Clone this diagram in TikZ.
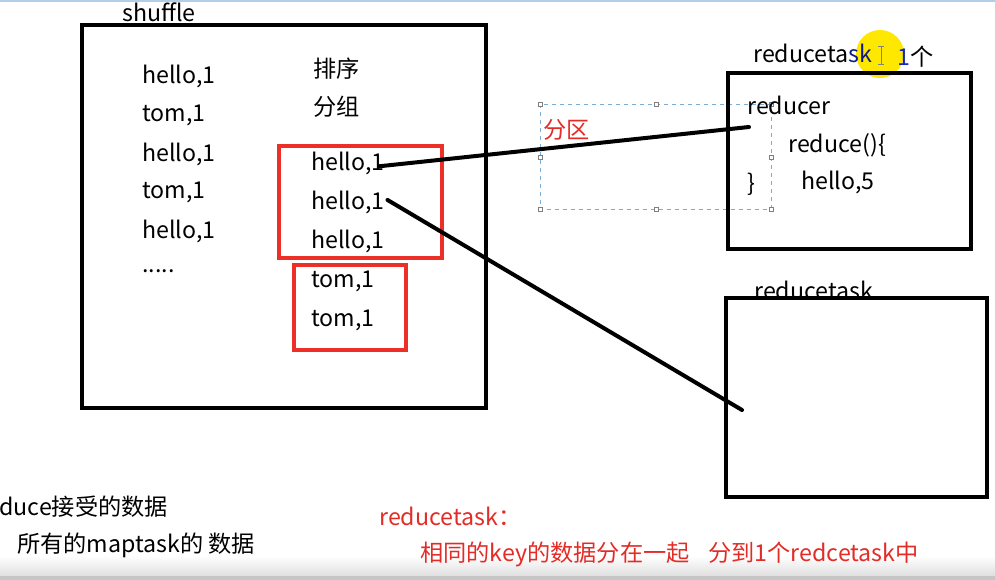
\documentclass[tikz,border=0pt]{standalone}
\usepackage{fontspec}
\setmainfont{Noto Sans CJK SC}
\definecolor{boxred}{RGB}{236,48,40}
\definecolor{txtred}{RGB}{228,44,38}
\definecolor{selblue}{RGB}{125,172,214}
\definecolor{curblue}{RGB}{20,40,190}
\definecolor{hiyellow}{RGB}{255,232,0}
\tikzset{
  txt/.style={anchor=west,inner sep=0pt,yshift=-1.2pt,font=\fontsize{17.4}{20}\selectfont},
  redtxt/.style={txt,text=txtred},
  frame/.style={draw=black,line width=3pt},
  redbox/.style={draw=boxred,line width=2.3pt},
  link/.style={line width=3pt,line cap=round},
  handle/.style={draw=gray,fill=white,line width=0.4pt,minimum size=3pt,inner sep=0pt}
}
\begin{document}
\begin{tikzpicture}[x=0.75pt,y=-0.75pt]
  \useasboundingbox (0,0) rectangle (995,580);
  % window edges
  \fill[white] (0,0) rectangle (995,580);
  \draw[selblue!60,line width=1.5pt] (0,1) -- (995,1);
  \shade[top color=white,bottom color=gray!25] (0,556) rectangle (995,576);
  \fill[gray!45] (0,576) rectangle (995,580);

  % shuffle box
  \draw[frame] (82,25) rectangle (486,408);
  \node[txt] (shuffle) at (122,11) {shuffle};
  \node[txt] (a1) at (142,75) {hello,1};
  \node[txt] (a2) at (142,114) {tom,1};
  \node[txt] (a3) at (142,153) {hello,1};
  \node[txt] (a4) at (142,191) {tom,1};
  \node[txt] (a5) at (142,230) {hello,1};
  \node[txt] (a6) at (142,270) {.....};
  \node[txt] (sort) at (313,67) {排序};
  \node[txt] (group) at (313,105) {分组};
  \node[txt] (h1) at (311,162) {hello,1};
  \node[txt] (h2) at (311,201) {hello,1};
  \node[txt] (h3) at (311,240) {hello,1};
  \node[txt] (t1) at (311,280) {tom,1};
  \node[txt] (t2) at (311,319) {tom,1};
  \draw[redbox] (279,146) rectangle (442,258);
  \draw[redbox] (294,265) rectangle (406,350);

  % partition selection
  \draw[selblue,dashed,line width=0.6pt] (540,104) rectangle (771,209);
  \foreach \p in {(540,104),(656,104),(771,104),(540,157),(771,157),(540,209),(656,209),(771,209)}
    \node[handle] at \p {};
  \node[redtxt] (part) at (543,128) {分区};

  % first reducetask
  \fill[hiyellow] (880,54) circle (24);
  \draw[curblue,line width=1.5pt] (864,72) -- (899,72);
  \draw[frame] (728,73) rectangle (971,249);
  \node[txt] (rt1) at (753,52) {reduceta\textcolor{curblue!70!black}{sk}};
  \draw[gray,line width=0.6pt] (881,46) -- (881,64) (878,46) -- (884,46) (878,64) -- (884,64);
  \node[txt] (one) at (897,55) {\textcolor{curblue}{1}个};
  \node[txt] (reducer) at (747,104) {reducer};
  \node[txt] (rfun) at (788,144) {reduce()\{};
  \node[txt] (res) at (801,181) {hello,5};
  \node[txt] (rclose) at (747,183) {\}};
  \coordinate (in1) at (749,127);

  % second reducetask
  \draw[frame] (726,298) rectangle (987,497);
  \node[txt] (rt2) at (754,289) {reducetask};
  \coordinate (in2) at (742,410);

  % links
  \draw[link] ([xshift=-4pt,yshift=-2pt]h1.east) -- (in1);
  \draw[link] ([xshift=2pt,yshift=2pt]h2.east) -- (in2);

  % notes
  \node[txt] (n1) at (-1,505) {duce接受的数据};
  \node[txt] (n2) at (17,544) {所有的maptask的 数据};
  \node[redtxt] (n3) at (379,515) {reducetask：};
  \node[redtxt] (n4) at (420,553) {相同的key的数据分在一起\hspace{14pt}分到1个redcetask中};
\end{tikzpicture}
\end{document}
